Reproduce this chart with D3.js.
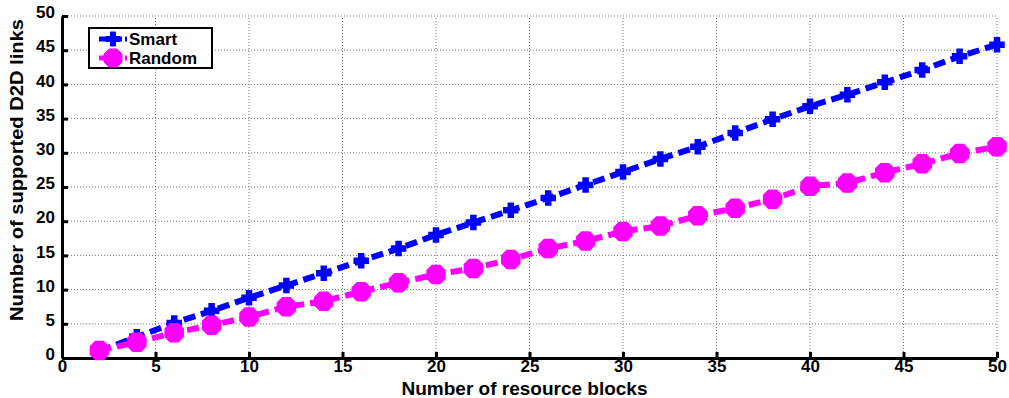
<!DOCTYPE html>
<html>
<head>
<meta charset="utf-8">
<script src="https://cdn.jsdelivr.net/npm/d3@7"></script>
<style>
  body { margin: 0; background: #fff; }
  text { font-family: "Liberation Sans", Arial, sans-serif; font-weight: bold; }
</style>
</head>
<body>
<div id="viz"></div>
<script>
"use strict";

var w = 1009;
var h = 398;

// data
var blocks = [2, 4, 6, 8, 10, 12, 14, 16, 18, 20, 22, 24, 26, 28, 30, 32, 34, 36, 38, 40, 42, 44, 46, 48, 50];
var smart = [1.0, 3.1, 5.1, 6.9, 8.8, 10.6, 12.4, 14.2, 16.0, 18.0, 19.8, 21.6, 23.4, 25.3, 27.2, 29.1, 30.9, 32.9, 34.9, 36.8, 38.5, 40.3, 42.1, 44.1, 45.8];
var random = [1.1, 2.3, 3.7, 4.8, 6.0, 7.5, 8.3, 9.7, 11.0, 12.2, 13.1, 14.4, 16.0, 17.1, 18.5, 19.3, 20.8, 21.9, 23.2, 25.1, 25.6, 27.1, 28.4, 29.9, 30.9];
var xTicks = [0, 5, 10, 15, 20, 25, 30, 35, 40, 45, 50];
var yTicks = [0, 5, 10, 15, 20, 25, 30, 35, 40, 45, 50];
var seriesNames = ["Smart", "Random"];

var m = { left: 62, right: 12, top: 16, bottom: 40 };

var svg = d3.select("#viz")
  .append("svg")
  .attr("width", w)
  .attr("height", h);

var x = d3.scaleLinear().domain([0, 50]).range([m.left, w - m.right]);
var y = d3.scaleLinear().domain([0, 50]).range([h - m.bottom, m.top]);

// dotted grid
var grid = svg.append("g").attr("class", "grid");
grid.selectAll("line.gx")
  .data(xTicks.slice(1)).enter()
  .append("line")
  .attr("x1", function(d) { return x(d); })
  .attr("x2", function(d) { return x(d); })
  .attr("y1", y(0))
  .attr("y2", y(50))
  .attr("stroke", "#777")
  .attr("stroke-width", 1)
  .attr("stroke-dasharray", "1,2");
grid.selectAll("line.gy")
  .data(yTicks.slice(1)).enter()
  .append("line")
  .attr("x1", x(0))
  .attr("x2", x(50))
  .attr("y1", function(d) { return y(d); })
  .attr("y2", function(d) { return y(d); })
  .attr("stroke", "#777")
  .attr("stroke-width", 1)
  .attr("stroke-dasharray", "1,2");

// axes
var xAxis = svg.append("g")
  .attr("transform", "translate(0," + y(0) + ")")
  .call(d3.axisBottom(x).tickValues(xTicks).tickSizeInner(-6).tickSizeOuter(0).tickPadding(4));
var yAxis = svg.append("g")
  .attr("transform", "translate(" + x(0) + ",0)")
  .call(d3.axisLeft(y).tickValues(yTicks).tickSizeInner(-6).tickSizeOuter(0).tickPadding(7));

[xAxis, yAxis].forEach(function(a) {
  a.select(".domain").attr("stroke", "#000").attr("stroke-width", 3);
  a.selectAll(".tick line").attr("stroke", "#000").attr("stroke-width", 3);
  a.selectAll(".tick text")
    .attr("fill", "#000")
    .style("font-size", "17px")
    .style("font-weight", "bold")
    .style("font-family", "'Liberation Sans', Arial, sans-serif");
});
xAxis.selectAll(".tick text").attr("dy", "0.6em");
yAxis.selectAll(".tick text").attr("dy", "0.1em");

// axis titles
svg.append("text")
  .attr("x", (x(0) + x(50)) / 2 - 5)
  .attr("y", 395)
  .attr("text-anchor", "middle")
  .style("font-size", "19px")
  .text("Number of resource blocks");

svg.append("text")
  .attr("transform", "translate(23," + ((y(0) + y(50)) / 2 - 17) + ") rotate(-90)")
  .attr("text-anchor", "middle")
  .attr("textLength", 302)
  .attr("lengthAdjust", "spacingAndGlyphs")
  .style("font-size", "18px")
  .text("Number of supported D2D links");

// series
var line = d3.line()
  .x(function(d) { return x(d[0]); })
  .y(function(d) { return y(d[1]); });

var plus = "M-2.5,-7H2.5V-2.5H7V2.5H2.5V7H-2.5V2.5H-7V-2.5H-2.5Z";
var octa = "M-4,-9H4L9,-4V4L4,9H-4L-9,4V-4Z";

function drawSeries(values, color, shape) {
  var pts = blocks.map(function(b, i) { return [b, values[i]]; });
  svg.append("path")
    .datum(pts)
    .attr("fill", "none")
    .attr("stroke", color)
    .attr("stroke-width", 6)
    .attr("stroke-dasharray", "12,6")
    .attr("d", line);
  svg.append("g")
    .selectAll("path.marker")
    .data(pts).enter()
    .append("path")
    .attr("class", "marker")
    .attr("d", shape)
    .attr("fill", color)
    .attr("stroke", color)
    .attr("stroke-width", 1.5)
    .attr("transform", function(d) {
      return "translate(" + x(d[0]) + "," + y(d[1]) + ")";
    });
}

drawSeries(smart, "#0000ff", plus);
drawSeries(random, "#ff00ff", octa);

// legend
var lg = svg.append("g").attr("transform", "translate(89,28)");
lg.append("rect")
  .attr("width", 123)
  .attr("height", 40)
  .attr("fill", "#fff")
  .attr("stroke", "#000")
  .attr("stroke-width", 2);
var colors = ["#0000ff", "#ff00ff"];
var shapes = [plus, octa];
seriesNames.forEach(function(name, i) {
  var row = lg.append("g").attr("transform", "translate(0," + (11 + i * 19) + ")");
  row.append("line")
    .attr("x1", 10).attr("x2", 38)
    .attr("y1", 0).attr("y2", 0)
    .attr("stroke", colors[i])
    .attr("stroke-width", 5)
    .attr("stroke-dasharray", "10,3");
  row.append("path")
    .attr("d", shapes[i])
    .attr("fill", colors[i])
    .attr("stroke", colors[i])
    .attr("transform", "translate(24,0)");
  row.append("text")
    .attr("x", 40)
    .attr("y", 6)
    .style("font-size", "17px")
    .text(name);
});
</script>
</body>
</html>
